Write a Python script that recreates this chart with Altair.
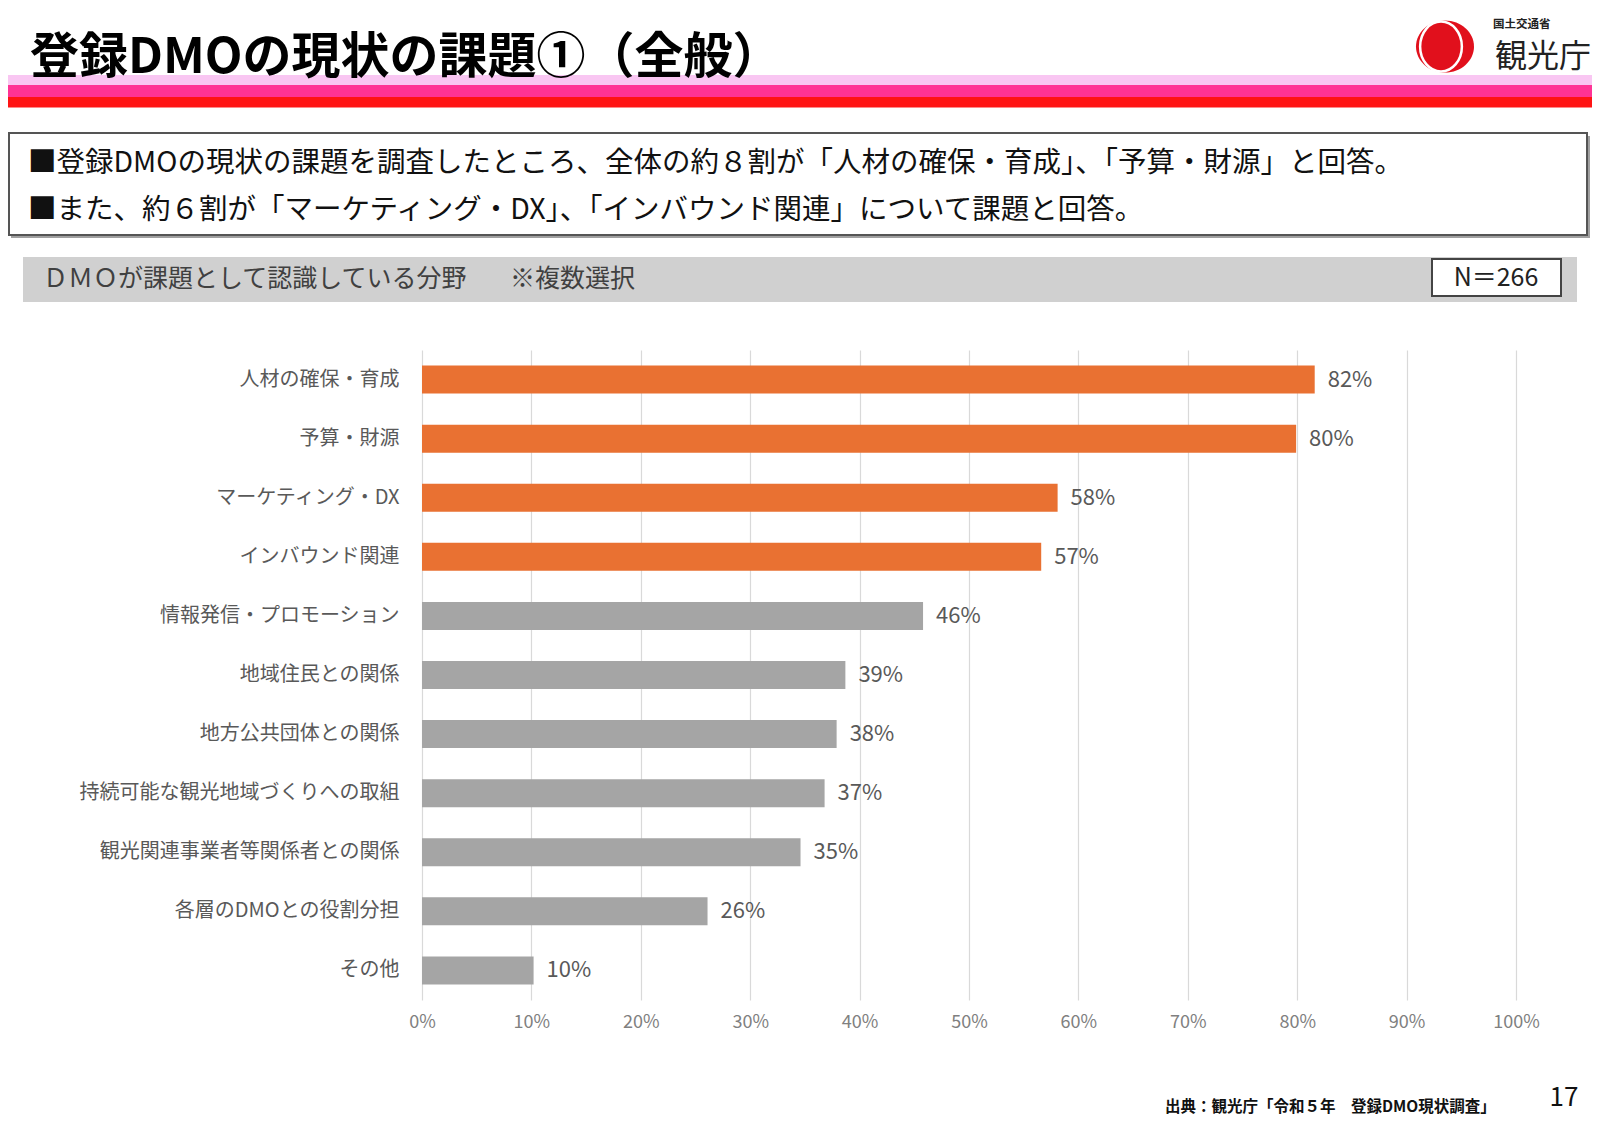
import altair as alt
import pandas as pd

# ---------------- data ----------------
categories = [
    "人材の確保・育成",
    "予算・財源",
    "マーケティング・DX",
    "インバウンド関連",
    "情報発信・プロモーション",
    "地域住民との関係",
    "地方公共団体との関係",
    "持続可能な観光地域づくりへの取組",
    "観光関連事業者等関係者との関係",
    "各層のDMOとの役割分担",
    "その他",
]
values = [0.816, 0.799, 0.581, 0.566, 0.458, 0.387, 0.379, 0.368, 0.346, 0.261, 0.102]
groups = ["top", "top", "top", "top", "other", "other", "other", "other", "other", "other", "other"]
x_ticks = [0, 0.1, 0.2, 0.3, 0.4, 0.5, 0.6, 0.7, 0.8, 0.9, 1.0]

title_text = "登録DMOの現状の課題①（全般）"
summary_lines = [
    "■登録DMOの現状の課題を調査したところ、全体の約８割が「人材の確保・育成」、「予算・財源」と回答。",
    "■また、約６割が「マーケティング・DX」、「インバウンド関連」について課題と回答。",
]
band_text = "ＤＭＯが課題として認識している分野"
band_note = "※複数選択"
n_text = "N＝266"
source_text = "出典：観光庁「令和５年　登録DMO現状調査」"
page_no = "17"
ministry = "国土交通省"
agency = "観光庁"

FONT = "Noto Sans CJK JP"

# ---------------- layout (page pixels) ----------------
X0, Y0 = 422, 350          # plot origin on the page
PW, PH = 1094, 650         # plot size


def px(X):
    return X - X0


def py(Y):
    return Y - Y0


one = alt.Data(values=[{"k": 1}])


def rect(x1, y1, x2, y2, fill, stroke=None, sw=0):
    kw = dict(fill=fill)
    if stroke:
        kw.update(stroke=stroke, strokeWidth=sw)
    else:
        kw.update(strokeWidth=0)
    return alt.Chart(one).mark_rect(**kw).encode(
        x=alt.value(px(x1)), x2=alt.value(px(x2)),
        y=alt.value(py(y1)), y2=alt.value(py(y2)),
    )


def text(t, X, Y, size, color="#111111", weight="normal", align="left"):
    return alt.Chart(one).mark_text(
        align=align, baseline="middle", fontSize=size, fontWeight=weight,
        color=color, font=FONT,
    ).encode(x=alt.value(px(X)), y=alt.value(py(Y)), text=alt.value(t))


layers = []

# header stripes
layers.append(rect(8, 75, 1600, 85, "#F9C6F2"))
layers.append(rect(8, 85, 1600, 97, "#FF3395"))
layers.append(rect(8, 97, 1600, 107.5, "#FF1414"))

# title
layers.append(text(title_text, 30, 58, 49, color="#000000", weight="bold"))

# logo
layers.append(
    alt.Chart(one).mark_point(
        shape="M -1 0 A 1 0.9 0 1 0 1 0 A 1 0.9 0 1 0 -1 0 Z",
        filled=True, fill="#E1101C", opacity=1, strokeWidth=0,
    ).encode(x=alt.value(px(1445)), y=alt.value(py(46.5)), size=alt.value(58 * 58))
)
layers.append(
    alt.Chart(one).mark_point(
        shape="M -0.72 0 A 0.72 0.86 0 1 0 0.72 0 A 0.72 0.86 0 1 0 -0.72 0 Z",
        filled=False, stroke="#FFFFFF", strokeWidth=2.5, opacity=1,
    ).encode(x=alt.value(px(1441)), y=alt.value(py(46.5)), size=alt.value(58 * 58))
)
layers.append(text(ministry, 1493, 25, 11.5, color="#222222", weight="bold"))
layers.append(text(agency, 1591, 57, 32, color="#222222", align="right"))

# summary box
layers.append(rect(11, 136, 1590, 238, "#A0A0A0"))
layers.append(rect(9, 133, 1587, 235, "#FFFFFF", "#555555", 2))
layers.append(text(summary_lines[0], 28, 163, 28.5))
layers.append(text(summary_lines[1], 28, 210, 28.5))

# gray band
layers.append(rect(23, 257, 1577, 302, "#D0D0D0"))
layers.append(text(band_text, 43, 279, 25, color="#404040"))
layers.append(text(band_note, 510, 279, 25, color="#404040"))
layers.append(rect(1432, 259, 1561, 296, "#FFFFFF", "#444444", 2))
layers.append(text(n_text, 1496, 278, 25, color="#222222", align="center"))

# footer
layers.append(text(source_text, 1165, 1107, 15.5, color="#111111", weight="bold"))
layers.append(text(page_no, 1564, 1098, 26, color="#111111", align="center"))

# ---------------- chart ----------------
df = pd.DataFrame({"category": categories, "value": values, "group": groups})

y_enc = alt.Y(
    "category:N", sort=categories,
    scale=alt.Scale(paddingInner=0.526, paddingOuter=0.263),
    axis=alt.Axis(title=None, ticks=False, domain=False, grid=False,
                  labelFontSize=20, labelColor="#595959", labelPadding=23,
                  labelFont=FONT, labelLimit=600),
)
x_enc = alt.X(
    "value:Q", scale=alt.Scale(domain=[0, 1], nice=False, zero=True),
    axis=alt.Axis(title=None, values=x_ticks, format=".0%", grid=True,
                  gridColor="#D9D9D9", gridWidth=1.2, domain=False, ticks=False,
                  labelFontSize=18, labelColor="#808080", labelPadding=13,
                  labelFlush=False, labelFont=FONT),
)

bars = alt.Chart(df).mark_bar().encode(
    x=x_enc, y=y_enc,
    color=alt.Color("group:N", scale=alt.Scale(domain=["top", "other"],
                                               range=["#E97132", "#A5A5A5"]),
                    legend=None),
)
labels = alt.Chart(df).mark_text(
    align="left", baseline="middle", dx=13, fontSize=22, color="#595959", font=FONT,
).encode(
    x="value:Q", y=alt.Y("category:N", sort=categories),
    text=alt.Text("value:Q", format=".0%"),
)

chart = alt.layer(*layers, bars, labels).properties(
    width=PW, height=PH,
    autosize=alt.AutoSizeParams(type="none"),
    padding={"left": X0 - 8, "top": Y0 - 8, "right": 1584 - (X0 - 8) - PW,
             "bottom": 1122 - (Y0 - 8) - PH},
    background="#FFFFFF",
).configure_view(stroke=None)

chart.save("out.html", embed_options={"renderer": "svg", "actions": False})
